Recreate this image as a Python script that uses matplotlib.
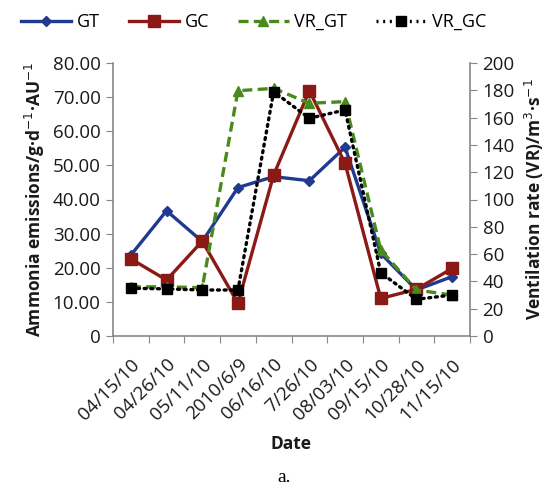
import matplotlib
matplotlib.use("Agg")
import matplotlib.pyplot as plt
from matplotlib.lines import Line2D

dates = ["04/15/10", "04/26/10", "05/11/10", "2010/6/9", "06/16/10",
         "7/26/10", "08/03/10", "09/15/10", "10/28/10", "11/15/10"]
gt = [23.7, 36.7, 27.7, 43.5, 46.7, 45.5, 55.3, 24.2, 13.5, 17.4]
gc = [22.6, 16.4, 27.8, 9.6, 47.2, 71.9, 50.6, 11.0, 13.7, 19.8]
vr_gt = [36.1, 36.0, 35.4, 179.7, 181.4, 170.5, 171.7, 63.0, 33.7, 30.0]
vr_gc = [35.0, 34.5, 33.7, 33.7, 179.0, 159.5, 165.6, 46.4, 26.9, 30.0]

left_ticks = [0, 10, 20, 30, 40, 50, 60, 70, 80]
left_labels = ["0", "10.00", "20.00", "30.00", "40.00", "50.00", "60.00", "70.00", "80.00"]
right_ticks = list(range(0, 201, 20))

plt.rcParams['font.family'] = ['Open Sans', 'DejaVu Sans']

c_gt = "#1f3a8f"
c_gc = "#8b1a17"
c_vgt = "#4a8a1c"
c_vgc = "#000000"
axc = "#888888"
tc = "#1a1a1a"

fig = plt.figure(figsize=(5.57, 4.88), dpi=100)
ax = fig.add_axes([113/557, 1-336/488, (470-113)/557, (336-63)/488])
ax2 = ax.twinx()

x = list(range(len(dates)))
ax.plot(x, gt, color=c_gt, lw=2.4, marker="D", ms=5, zorder=3)
ax.plot(x, gc, color=c_gc, lw=2.4, marker="s", ms=9, zorder=3)
ax2.plot(x, vr_gt, color=c_vgt, lw=2.4, ls=(0, (3, 1.6)), marker="^", ms=7, zorder=2)
ax2.plot(x, vr_gc, color=c_vgc, lw=2.4, ls=(0, (0.6, 1.4)), dash_capstyle='round',
         marker="s", ms=7, zorder=2)

ax.set_xlim(-0.5, len(dates) - 0.5)
ax.set_ylim(0, 80)
ax2.set_ylim(0, 200)
ax.set_yticks(left_ticks)
ax.set_yticklabels(left_labels)
ax2.set_yticks(right_ticks)

ax.set_xticks([i - 0.5 for i in range(len(dates) + 1)], minor=False)
ax.set_xticklabels([""] * (len(dates) + 1))
ax.set_xticks(x, minor=True)
ax.set_xticklabels(dates, minor=True, rotation=45, ha="right", rotation_mode="anchor",
                   fontsize=13.5, color=tc, fontweight="medium")
ax.tick_params(axis="x", which="minor", length=0, pad=14)
ax.tick_params(axis="x", which="major", length=5, color=axc, direction="out")

for a in (ax, ax2):
    for s in a.spines.values():
        s.set_visible(False)
ax.spines["left"].set_visible(True)
ax.spines["bottom"].set_visible(True)
ax2.spines["right"].set_visible(True)
for s in (ax.spines["left"], ax.spines["bottom"], ax2.spines["right"]):
    s.set_color(axc)
    s.set_linewidth(1.2)

ax.tick_params(axis="y", length=5, color=axc, labelsize=13.5, labelcolor=tc, pad=4)
ax2.tick_params(axis="y", length=5, color=axc, labelsize=13.5, labelcolor=tc, pad=4)
for lbl in ax.get_yticklabels() + ax2.get_yticklabels():
    lbl.set_fontweight("medium")

ax.set_ylabel("Ammonia emissions/g·d$^{-1}$·AU$^{-1}$", fontsize=12.5, fontweight="bold",
              color=tc, labelpad=4)
ax2.set_ylabel("Ventilation rate (VR)/m$^{3}$·s$^{-1}$", fontsize=12.5, fontweight="bold",
               color=tc, labelpad=6)
ax.set_xlabel("Date", fontsize=12.5, fontweight="bold", color=tc, labelpad=8)

handles = [
    Line2D([], [], color=c_gt, lw=2.4, marker="D", ms=5),
    Line2D([], [], color=c_gc, lw=2.4, marker="s", ms=9),
    Line2D([], [], color=c_vgt, lw=2.4, ls=(0, (3, 1.6)), marker="^", ms=7),
    Line2D([], [], color=c_vgc, lw=2.4, ls=(0, (0.6, 1.4)), marker="s", ms=7),
]
fig.legend(handles, ["GT", "GC", "VR_GT", "VR_GC"], loc="center",
           bbox_to_anchor=(0.455, 1 - 22/488), ncol=4, frameon=False,
           fontsize=13, handlelength=2.8, columnspacing=1.6, handletextpad=0.3)

fig.text(284/557, 1 - 478/488, "a.", ha="center", va="center", fontsize=14,
         family="Liberation Serif", color="black")

fig.savefig("out.png", dpi=100)
